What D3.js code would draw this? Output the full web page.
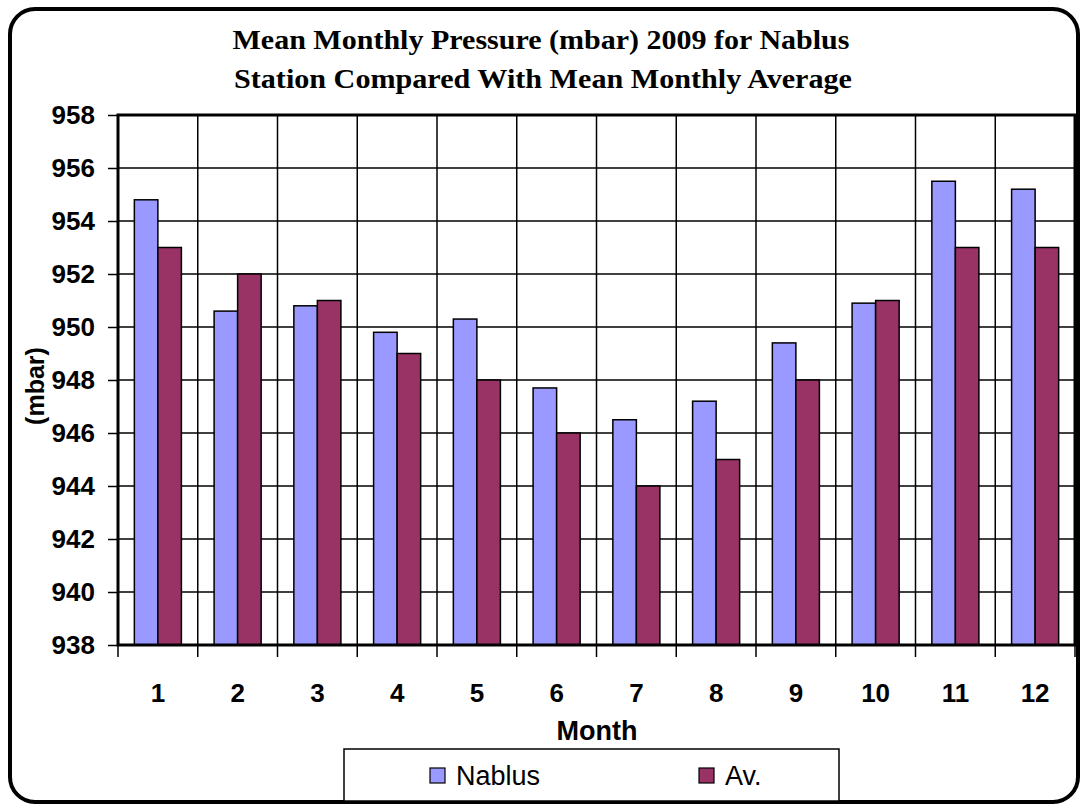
<!DOCTYPE html>
<html>
<head>
<meta charset="utf-8">
<script src="https://cdn.jsdelivr.net/npm/d3@7"></script>
<style>
  body { margin: 0; background: #fff; }
  text { font-family: "Liberation Sans", Arial, sans-serif; }
</style>
</head>
<body>
<div id="chart"></div>
<script>
const months = ["1", "2", "3", "4", "5", "6", "7", "8", "9", "10", "11", "12"];
const nablus = [954.8, 950.6, 950.8, 949.8, 950.3, 947.7, 946.5, 947.2, 949.4, 950.9, 955.5, 955.2];
const average = [953, 952, 951, 949, 948, 946, 944, 945, 948, 951, 953, 953];
const seriesNames = ["Nablus", "Av."];
const yTicks = [938, 940, 942, 944, 946, 948, 950, 952, 954, 956, 958];

const colors = { "Nablus": "#9999ff", "Av.": "#993366" };

const W = 1083, H = 806;
const margin = { top: 115, right: 8, bottom: 161, left: 118 };
const width = 1075 - margin.left;
const height = 645 - margin.top;

const root = d3.select("#chart").append("svg")
  .attr("width", W)
  .attr("height", H);

// outer frame
root.append("rect")
  .attr("x", 10).attr("y", 9)
  .attr("width", 1068).attr("height", 793)
  .attr("rx", 25)
  .attr("fill", "#fff")
  .attr("stroke", "#000")
  .attr("stroke-width", 4);

// title
const title = root.append("g")
  .attr("font-weight", "bold")
  .attr("font-size", 28)
  .attr("text-anchor", "middle");
title.append("text").attr("x", 541).attr("y", 49)
  .attr("textLength", 617).attr("lengthAdjust", "spacingAndGlyphs")
  .style("font-family", "'Liberation Serif', 'Times New Roman', serif")
  .text("Mean Monthly Pressure (mbar) 2009 for Nablus");
title.append("text").attr("x", 543).attr("y", 88)
  .attr("textLength", 618).attr("lengthAdjust", "spacingAndGlyphs")
  .style("font-family", "'Liberation Serif', 'Times New Roman', serif")
  .text("Station Compared With Mean Monthly Average");

const svg = root.append("g")
  .attr("transform", `translate(${margin.left}, ${margin.top})`);

const y = d3.scaleLinear()
  .domain([938, 958])
  .range([height, 0]);

const x0 = d3.scaleBand()
  .domain(months)
  .range([0, width])
  .paddingInner(0.41)
  .paddingOuter(0.205);

const x1 = d3.scaleBand()
  .domain(seriesNames)
  .range([0, x0.bandwidth()]);

const gap = (x0.step() - x0.bandwidth()) / 2;
const bounds = months.map((m) => x0(m) - gap).concat([width]);

// horizontal grid
svg.selectAll(".hgrid")
  .data(yTicks)
  .join("line")
  .attr("class", "hgrid")
  .attr("x1", 0).attr("x2", width)
  .attr("y1", (d) => y(d)).attr("y2", (d) => y(d))
  .attr("stroke", "#000")
  .attr("stroke-width", 1.5);

// vertical grid
svg.selectAll(".vgrid")
  .data(bounds)
  .join("line")
  .attr("class", "vgrid")
  .attr("x1", (d) => d).attr("x2", (d) => d)
  .attr("y1", 0).attr("y2", height)
  .attr("stroke", "#000")
  .attr("stroke-width", 1.5);

// bars
const data = months.map((m, i) => ({ month: m, values: [
  { name: "Nablus", value: nablus[i] },
  { name: "Av.", value: average[i] },
] }));

svg.selectAll(".group")
  .data(data)
  .join("g")
  .attr("class", "group")
  .attr("transform", (d) => `translate(${x0(d.month)}, 0)`)
  .selectAll("rect")
  .data((d) => d.values)
  .join("rect")
  .attr("x", (d) => x1(d.name))
  .attr("width", x1.bandwidth())
  .attr("y", (d) => y(d.value))
  .attr("height", (d) => height - y(d.value))
  .attr("fill", (d) => colors[d.name])
  .attr("stroke", "#000")
  .attr("stroke-width", 1.5);

// plot frame
svg.append("rect")
  .attr("width", width).attr("height", height)
  .attr("fill", "none")
  .attr("stroke", "#000")
  .attr("stroke-width", 3);

// y axis
const yAxis = svg.append("g")
  .call(d3.axisLeft(y).tickValues(yTicks).tickSize(10).tickPadding(13));
yAxis.select(".domain").remove();
yAxis.selectAll(".tick line").attr("stroke", "#000").attr("stroke-width", 1.5);
yAxis.selectAll(".tick text")
  .attr("font-size", 26)
  .attr("font-weight", "bold")
  .attr("fill", "#000")
  .attr("font-family", "'Liberation Sans', Arial, sans-serif");

// x ticks at category boundaries
svg.selectAll(".xtick")
  .data(bounds)
  .join("line")
  .attr("class", "xtick")
  .attr("x1", (d) => d).attr("x2", (d) => d)
  .attr("y1", height).attr("y2", height + 12)
  .attr("stroke", "#000")
  .attr("stroke-width", 1.5);

svg.selectAll(".xlabel")
  .data(months)
  .join("text")
  .attr("class", "xlabel")
  .attr("x", (d) => x0(d) + x0.bandwidth() / 2)
  .attr("y", 702 - margin.top)
  .attr("text-anchor", "middle")
  .attr("font-size", 26)
  .attr("font-weight", "bold")
  .text((d) => d);

// axis titles
root.append("text")
  .attr("x", 597).attr("y", 740)
  .attr("text-anchor", "middle")
  .attr("font-size", 27)
  .attr("font-weight", "bold")
  .text("Month");

root.append("text")
  .attr("transform", "translate(44, 386) rotate(-90)")
  .attr("text-anchor", "middle")
  .attr("font-size", 25)
  .attr("font-weight", "bold")
  .text("(mbar)");

// legend
const legend = root.append("g");
legend.append("rect")
  .attr("x", 344).attr("y", 749)
  .attr("width", 495).attr("height", 52)
  .attr("fill", "#fff")
  .attr("stroke", "#000")
  .attr("stroke-width", 1.5);

const legendX = [430, 699];
const items = legend.selectAll(".item")
  .data(seriesNames)
  .join("g")
  .attr("class", "item")
  .attr("transform", (d, i) => `translate(${legendX[i]}, 768)`);
items.append("rect")
  .attr("width", 15).attr("height", 15)
  .attr("fill", (d) => colors[d])
  .attr("stroke", "#000")
  .attr("stroke-width", 1.2);
items.append("text")
  .attr("x", 26).attr("y", 17)
  .attr("font-size", 27)
  .text((d) => d);
</script>
</body>
</html>
